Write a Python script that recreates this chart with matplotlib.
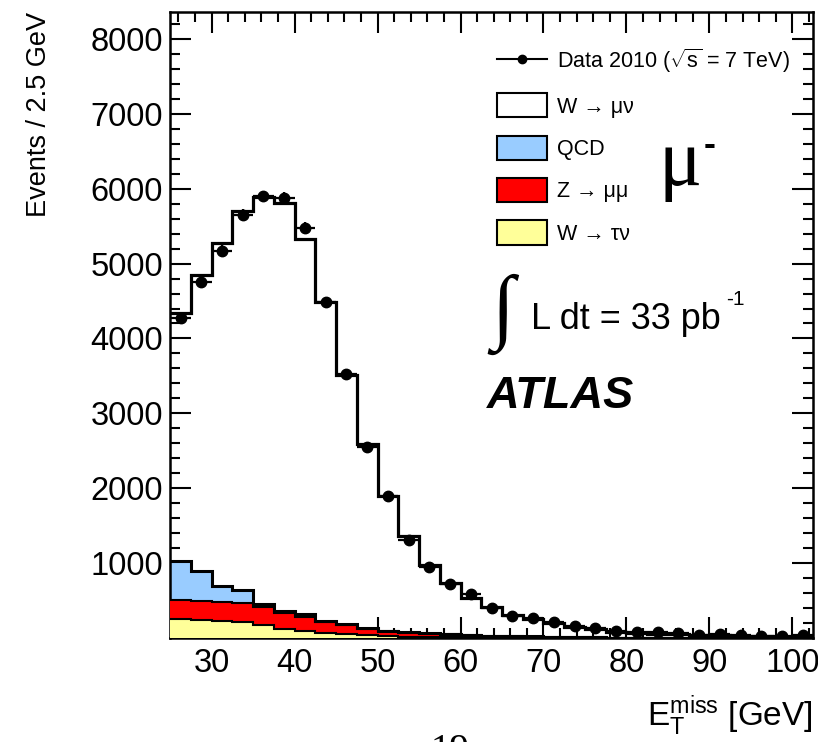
import numpy as np
import matplotlib
matplotlib.use("Agg")
import matplotlib.pyplot as plt
from matplotlib.lines import Line2D
from matplotlib.patches import Patch
from matplotlib.ticker import MultipleLocator

plt.rcParams['font.family'] = ['Liberation Sans', 'DejaVu Sans']
plt.rcParams['mathtext.fontset'] = 'custom'
plt.rcParams['mathtext.rm'] = 'Liberation Sans'
plt.rcParams['mathtext.it'] = 'Liberation Sans:italic'
plt.rcParams['mathtext.bf'] = 'Liberation Sans:bold'

# bin edges: 25 -> 102.5 GeV in 2.5 GeV steps
bin_lo = 25.0
bin_width = 2.5
n_bins = 31

# data 2010 (events per bin)
data = [4272, 4754, 5173, 5648, 5897, 5875, 5477, 4486, 3522, 2558,
        1892, 1306, 947, 723, 589, 398, 299, 265, 218, 161,
        130, 94, 76, 76, 63, 44, 54, 40, 31, 23, 40]

# MC components
w_taunu = [254, 245, 232, 210, 174, 120, 98, 67, 50, 38,
           28, 20, 15, 11, 8, 6, 5, 4, 3, 2,
           2, 1, 1, 1, 1, 1, 0, 0, 0, 0, 0]
z_mumu = [255, 255, 254, 254, 237, 215, 187, 143, 120, 85,
          62, 55, 45, 38, 30, 24, 19, 15, 12, 10,
          8, 6, 5, 4, 3, 3, 2, 2, 2, 1, 1]
qcd = [518, 402, 206, 183, 44, 31, 36, 22, 15, 10,
       8, 8, 7, 6, 5, 4, 3, 3, 2, 2,
       2, 1, 1, 1, 1, 1, 1, 1, 0, 0, 0]
w_munu = [3312, 3950, 4585, 5054, 5438, 5437, 5013, 4250, 3328, 2465,
          1800, 1274, 911, 678, 493, 377, 285, 232, 184, 137,
          109, 76, 63, 54, 45, 37, 32, 27, 23, 19, 16]

edges = bin_lo + bin_width * np.arange(n_bins + 1)
centers = 0.5 * (edges[:-1] + edges[1:])

s_tau = np.array(w_taunu, dtype=float)
s_z = s_tau + np.array(z_mumu)
s_qcd = s_z + np.array(qcd)
s_tot = s_qcd + np.array(w_munu)

fig = plt.figure(figsize=(8.18, 7.42), dpi=100)
ax = fig.add_axes([0.208, 0.140, 0.786, 0.844])

# stacked histograms, drawn from the top down
ax.stairs(s_tot, edges, fill=True, facecolor='white', edgecolor='none', zorder=1)
ax.stairs(s_qcd, edges, fill=True, facecolor='#99ccff', edgecolor='none', zorder=2)
ax.stairs(s_z, edges, fill=True, facecolor='#ff0000', edgecolor='none', zorder=3)
ax.stairs(s_tau, edges, fill=True, facecolor='#ffff99', edgecolor='none', zorder=4)
for s, lw in [(s_tau, 1.5), (s_z, 1.5), (s_qcd, 2.2), (s_tot, 2.3)]:
    ax.stairs(s, edges, color='black', lw=lw, baseline=None, zorder=5)

# data points
ax.errorbar(centers, data, xerr=bin_width / 2, yerr=np.sqrt(data), fmt='o',
            color='black', ms=7.5, elinewidth=1.6, capsize=0, zorder=6)

ax.set_xlim(25, 102.5)
ax.set_ylim(0, 8360)
ax.xaxis.set_major_locator(MultipleLocator(10))
ax.xaxis.set_minor_locator(MultipleLocator(2))
ax.yaxis.set_major_locator(MultipleLocator(1000))
ax.yaxis.set_minor_locator(MultipleLocator(200))
ax.set_yticks([1000, 2000, 3000, 4000, 5000, 6000, 7000, 8000])
ax.tick_params(which='both', direction='in', top=True, right=True, width=1.5)
ax.tick_params(which='major', length=15, labelsize=23.5)
ax.tick_params(axis='x', which='major', pad=7)
ax.tick_params(axis='y', which='major', pad=5)
ax.tick_params(which='minor', length=7.5)
for sp in ax.spines.values():
    sp.set_linewidth(1.8)

ax.set_ylabel('Events / 2.5 GeV', fontsize=19.5, loc='top', labelpad=28)
fig.text(0.994, 0.005, r'$\mathrm{E}_{\mathrm{T}}^{\mathrm{miss}}$ [GeV]',
         fontsize=24, ha='right', va='bottom')

handles = [
    Line2D([0], [0], color='black', lw=1.5, marker='o', ms=6),
    Patch(facecolor='white', edgecolor='black', lw=1.5),
    Patch(facecolor='#99ccff', edgecolor='black', lw=1.5),
    Patch(facecolor='#ff0000', edgecolor='black', lw=1.5),
    Patch(facecolor='#ffff99', edgecolor='black', lw=1.5),
]
labels = [r'Data 2010 ($\sqrt{\mathrm{s}}$ = 7 TeV)', 'W → μν', 'QCD', 'Z → μμ', 'W → τν']
ax.legend(handles, labels, loc='upper left', bbox_to_anchor=(0.508, 0.944),
          frameon=False, fontsize=15.5, handlelength=2.35, handleheight=1.35,
          labelspacing=0.84, handletextpad=0.45, borderpad=0, borderaxespad=0)

ax.text(0.760, 0.724, 'μ', transform=ax.transAxes, fontsize=58,
        family=['Liberation Serif', 'DejaVu Serif'], ha='left', va='baseline')
ax.text(0.830, 0.772, '-', transform=ax.transAxes, fontsize=26,
        fontweight='bold', ha='left', va='baseline')

ax.text(0.500, 0.488, '∫', transform=ax.transAxes, fontsize=60,
        family=['Liberation Serif', 'DejaVu Serif'], ha='left', va='baseline')
ax.text(0.562, 0.494, 'L dt = 33 pb', transform=ax.transAxes, fontsize=26,
        ha='left', va='baseline')
ax.text(0.864, 0.532, '-1', transform=ax.transAxes, fontsize=15,
        ha='left', va='baseline')
ax.text(0.492, 0.368, 'ATLAS', transform=ax.transAxes, fontsize=32.5,
        fontweight='bold', fontstyle='italic', ha='left', va='baseline')

# page number peeking in at the bottom edge
fig.text(450 / 818, 1 - 733 / 742, '19', fontsize=28, ha='center', va='top',
         family=['Liberation Serif', 'DejaVu Serif'])

fig.savefig('out.png', dpi=100)
